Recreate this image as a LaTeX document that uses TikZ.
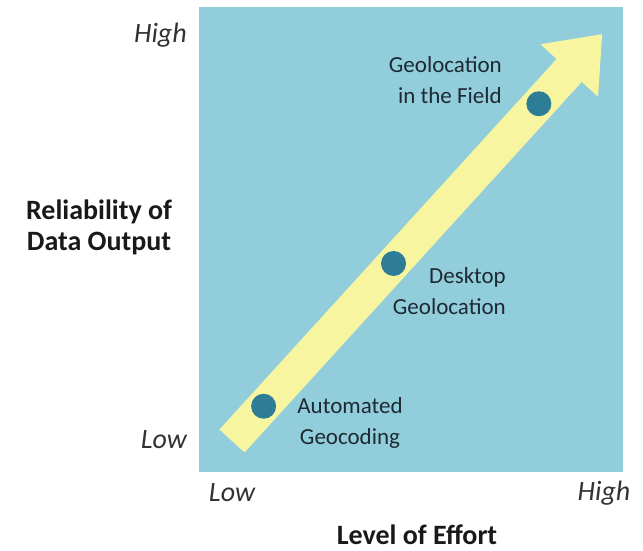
\documentclass[tikz,border=0pt]{standalone}
\usepackage{fontspec}
\setmainfont{Carlito}
\usepackage{tikz}
\definecolor{chartblue}{HTML}{92CDDC}
\definecolor{arrowyellow}{HTML}{F7F5A0}
\definecolor{spotteal}{HTML}{2E7D96}
\definecolor{labelgray}{HTML}{1E2A33}
\tikzset{
  spot/.style={circle, fill=spotteal, minimum size=25pt, inner sep=0pt},
  steplabel/.style={text=labelgray, inner sep=0pt, font=\fontsize{23}{31}\selectfont},
  ticklabel/.style={text=black!80, inner sep=0pt, font=\fontsize{28}{34}\selectfont\itshape},
  axistitle/.style={text=black!90, inner sep=0pt, align=center, font=\fontsize{28}{31}\selectfont\bfseries}
}

\begin{document}
\begin{tikzpicture}[x=1pt, y=1pt]
    \useasboundingbox (0,0) rectangle (643,551);
    \fill[chartblue] (199,79) rectangle (623,544);

    \begin{scope}[shift={(232,110)}, rotate=47.7]
        \fill[arrowyellow] (0,-17) -- (501,-17) -- (501,-39) -- (550,0) -- (501,39) -- (501,17) -- (0,17) -- cycle;
        \node[spot] (auto) at (47,0) {};
        \node[spot] (desk) at (240,0) {};
        \node[spot] (field) at (456,0) {};
    \end{scope}

    \node[steplabel, align=center] (autotxt) at (350,128.5) {Automated\\Geocoding};
    \node[steplabel, align=right, anchor=east] (desktxt) at (506,259.5) {Desktop\\Geolocation};
    \node[steplabel, align=right, anchor=east] (fieldtxt) at (502,471) {Geolocation\\in the Field};

    \node[ticklabel, anchor=east] (yhigh) at (187,516) {High};
    \node[ticklabel, anchor=east] (ylow) at (187,111) {Low};
    \node[ticklabel] (xlow) at (232,58) {Low};
    \node[ticklabel] (xhigh) at (604,58) {High};

    \node[axistitle] (ytitle) at (99,324) {Reliability of\\Data Output};
    \node[axistitle] (xtitle) at (417,16) {Level of Effort};
\end{tikzpicture}
\end{document}
